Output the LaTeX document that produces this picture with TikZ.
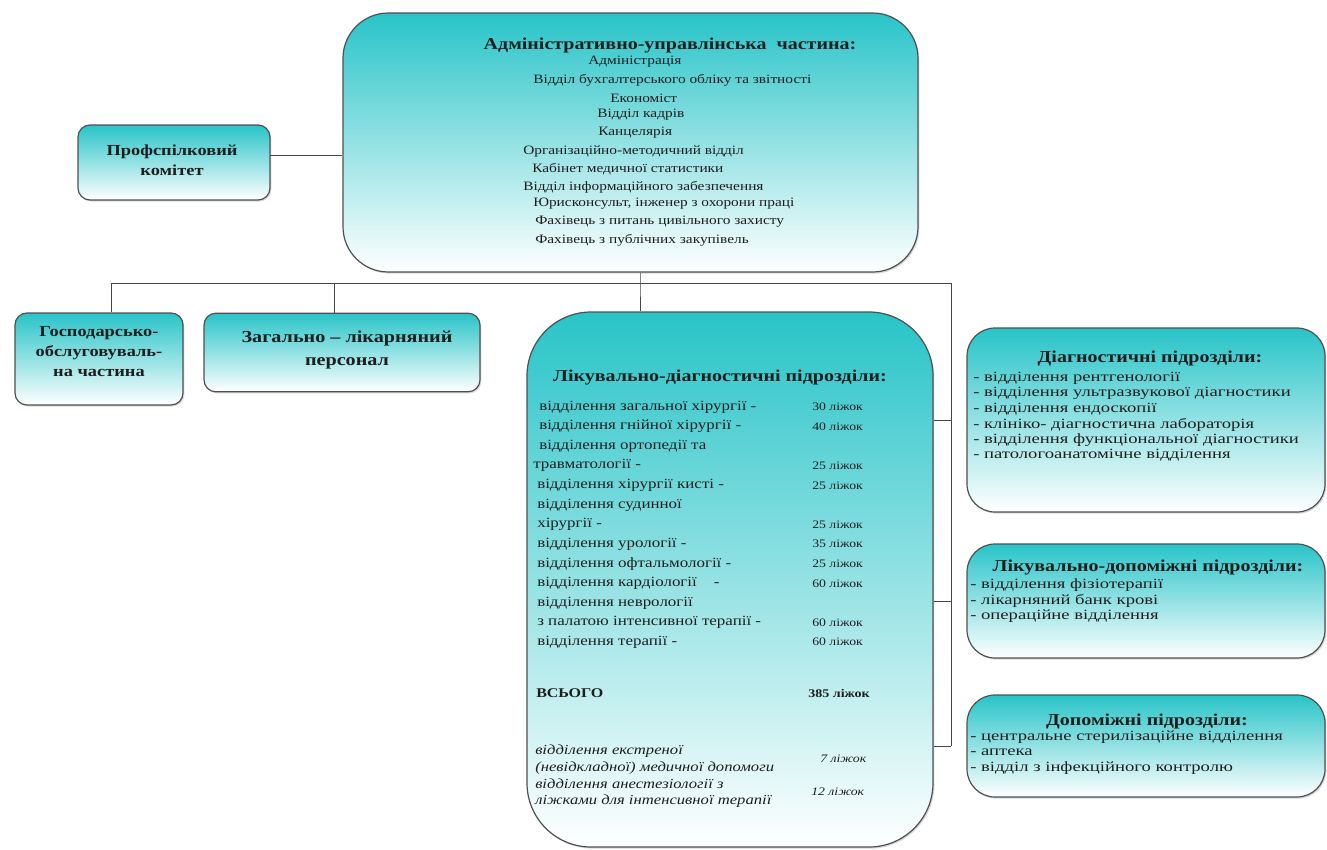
\documentclass[tikz,border=0pt]{standalone}
\usepackage{fontspec}
\setmainfont{Liberation Serif}[FakeStretch=1.2]
\newfontfamily\widefont{Liberation Serif}[FakeStretch=1.32]
\usetikzlibrary{shadows}
\definecolor{tealtop}{RGB}{40,196,200}
\definecolor{edgegray}{RGB}{80,80,80}
\definecolor{linegray}{RGB}{70,70,70}
\definecolor{txt}{RGB}{30,30,30}
\tikzset{
  box/.style={draw=edgegray, line width=0.9pt, top color=tealtop, bottom color=white, inner sep=0pt,
    drop shadow={shadow xshift=1pt, shadow yshift=-1.2pt, opacity=0.3}},
  conn/.style={draw=linegray, line width=0.75pt},
  ttl/.style={inner sep=0pt, text=txt, font=\bfseries\fontsize{12.5}{14}\selectfont},
  lbox/.style={inner sep=0pt, text=txt, align=center, font=\bfseries\fontsize{11.5}{15}\selectfont},
  topitem/.style={anchor=west, inner sep=0pt, text=txt, font=\fontsize{9.6}{11}\selectfont},
  citem/.style={anchor=west, inner sep=0pt, text=txt, font=\fontsize{10.6}{12}\selectfont},
  cital/.style={anchor=west, inner sep=0pt, text=txt, font=\itshape\fontsize{10.4}{12}\selectfont},
  cnum/.style={anchor=west, inner sep=0pt, text=txt, font=\fontsize{8.6}{10}\selectfont},
  ritem/.style={anchor=west, inner sep=0pt, text=txt, font=\widefont\fontsize{10.6}{12}\selectfont},
}
\begin{document}
\begin{tikzpicture}[x=0.75pt,y=-0.75pt]
\fill[white] (0,0) rectangle (1327,849);
\useasboundingbox (0,0) rectangle (1327,849);

% boxes
\node[box, rounded corners=34pt, minimum width=431.25pt, minimum height=194.25pt] (top) at (630.5,142.5) {};
\node[box, rounded corners=9pt, minimum width=144pt, minimum height=56.25pt] (prof) at (174,162.5) {};
\node[box, rounded corners=9pt, minimum width=126pt, minimum height=69pt] (gosp) at (99,359) {};
\node[box, rounded corners=9pt, minimum width=207pt, minimum height=59pt] (zag) at (342,352.5) {};
\node[box, rounded corners=48pt, minimum width=304.5pt, minimum height=401.25pt] (lik) at (730,579.5) {};
\node[box, rounded corners=21pt, minimum width=268.5pt, minimum height=138pt] (diag) at (1146,420) {};
\node[box, rounded corners=21pt, minimum width=268.5pt, minimum height=85.5pt] (ldop) at (1146,601) {};
\node[box, rounded corners=21pt, minimum width=268.5pt, minimum height=76.5pt] (dop) at (1146,746) {};

% connectors
\coordinate (busL) at (111,283);
\coordinate (busZ) at (334,283);
\coordinate (busM) at (640,283);
\coordinate (busR) at (951,283);
\coordinate (profout) at (270,155);
\draw[conn] (profout) -- (top.west |- profout);
\draw[conn] (busL) -- (busR);
\draw[conn] (busL) -- (gosp.north -| busL);
\draw[conn] (busZ) -- (zag.north -| busZ);
\draw[conn] (top.south -| busM) -- (busM) -- (lik.north -| busM);
\draw[conn] (busR) -- (busR |- dop.west);
\draw[conn] (lik.east |- diag.west) -- (busR |- diag.west);
\draw[conn] (lik.east |- ldop.west) -- (busR |- ldop.west);
\draw[conn] (lik.east |- dop.west) -- (busR |- dop.west);

% top box text
\node[ttl] (topttl) at (670,46) {Адміністративно-управлінська\ \ частина:};
\node[topitem] (t1) at (588,62) {Адміністрація};
\node[topitem] (t2) at (533,80) {Відділ бухгалтерського обліку та звітності};
\node[topitem] (t3) at (610,98) {Економіст};
\node[topitem] (t4) at (597,115) {Відділ кадрів};
\node[topitem] (t5) at (598,133) {Канцелярія};
\node[topitem] (t6) at (523,151) {Організаційно-методичний відділ};
\node[topitem] (t7) at (532,169) {Кабінет медичної статистики};
\node[topitem] (t8) at (523,187) {Відділ інформаційного забезпечення};
\node[topitem] (t9) at (533,204) {Юрисконсульт, інженер з охорони праці};
\node[topitem] (t10) at (535,222) {Фахівець з питань цивільного захисту};
\node[topitem] (t11) at (535,240) {Фахівець з публічних закупівель};

% left boxes text
\node[lbox] (proftxt) at (172,160) {Профспілковий\\комітет};
\node[lbox] (gosptxt) at (99,352) {Господарсько-\\обслуговуваль-\\на частина};
\node[lbox, font=\bfseries\fontsize{12.6}{17.5}\selectfont] (zagtxt) at (347,350) {Загально – лікарняний\\персонал};

% center box text
\node[ttl] (likttl) at (720,378) {Лікувально-діагностичні підрозділи:};
\node[citem] (c0) at (539,407) {відділення загальної хірургії -};
\node[cnum] (n0) at (812,407) {30 ліжок};
\node[citem] (c1) at (539,426.6) {відділення гнійної хірургії -};
\node[cnum] (n1) at (812,426.6) {40 ліжок};
\node[citem] (c2) at (539,446.2) {відділення ортопедії та};
\node[citem] (c3) at (533,465.8) {травматології -};
\node[cnum] (n3) at (812,465.8) {25 ліжок};
\node[citem] (c4) at (537,485.4) {відділення хірургії кисті -};
\node[cnum] (n4) at (812,485.4) {25 ліжок};
\node[citem] (c5) at (537,505) {відділення судинної};
\node[citem] (c6) at (537,524.6) {хірургії -};
\node[cnum] (n6) at (812,524.6) {25 ліжок};
\node[citem] (c7) at (537,544.2) {відділення урології -};
\node[cnum] (n7) at (812,544.2) {35 ліжок};
\node[citem] (c8) at (537,563.8) {відділення офтальмології -};
\node[cnum] (n8) at (812,563.8) {25 ліжок};
\node[citem] (c9) at (537,583.4) {відділення кардіології\ \ \ \ -};
\node[cnum] (n9) at (812,583.4) {60 ліжок};
\node[citem] (c10) at (537,603) {відділення неврології};
\node[citem] (c11) at (537,622.6) {з палатою інтенсивної терапії -};
\node[cnum] (n11) at (812,622.6) {60 ліжок};
\node[citem] (c12) at (537,642.2) {відділення терапії -};
\node[cnum] (n12) at (812,642.2) {60 ліжок};
\node[citem, font=\bfseries\fontsize{10}{12}\selectfont] (vs) at (536,693) {ВСЬОГО};
\node[cnum, font=\bfseries\fontsize{8.8}{10}\selectfont] (vsn) at (808,693) {385 ліжок};
\node[cital] (e1) at (535,751) {відділення екстреної};
\node[cital] (e2) at (535,768) {(невідкладної) медичної допомоги};
\node[cnum, font=\itshape\fontsize{8.6}{10}\selectfont] (en) at (820,759) {7 ліжок};
\node[cital] (a1) at (535,784) {відділення анестезіології з};
\node[cital] (a2) at (535,801) {ліжками для інтенсивної терапії};
\node[cnum, font=\itshape\fontsize{8.6}{10}\selectfont] (an) at (811,792) {12 ліжок};

% right boxes text
\node[ttl] (diagttl) at (1150,358) {Діагностичні підрозділи:};
\node[ritem] (d1) at (973,378) {- відділення рентгенології};
\node[ritem] (d2) at (973,393.5) {- відділення ультразвукової діагностики};
\node[ritem] (d3) at (973,409) {- відділення ендоскопії};
\node[ritem] (d4) at (973,424.5) {- клініко- діагностична лабораторія};
\node[ritem] (d5) at (973,440) {- відділення функціональної діагностики};
\node[ritem] (d6) at (973,455.5) {- патологоанатомічне відділення};

\node[ttl] (ldopttl) at (1148,568) {Лікувально-допоміжні підрозділи:};
\node[ritem] (l1) at (970,585) {- відділення фізіотерапії};
\node[ritem] (l2) at (970,600.5) {- лікарняний банк крові};
\node[ritem] (l3) at (970,616) {- операційне відділення};

\node[ttl] (dopttl) at (1147,721) {Допоміжні підрозділи:};
\node[ritem] (p1) at (970,737) {- центральне стерилізаційне відділення};
\node[ritem] (p2) at (970,752.5) {- аптека};
\node[ritem] (p3) at (970,768) {- відділ з інфекційного контролю};
\end{tikzpicture}
\end{document}
